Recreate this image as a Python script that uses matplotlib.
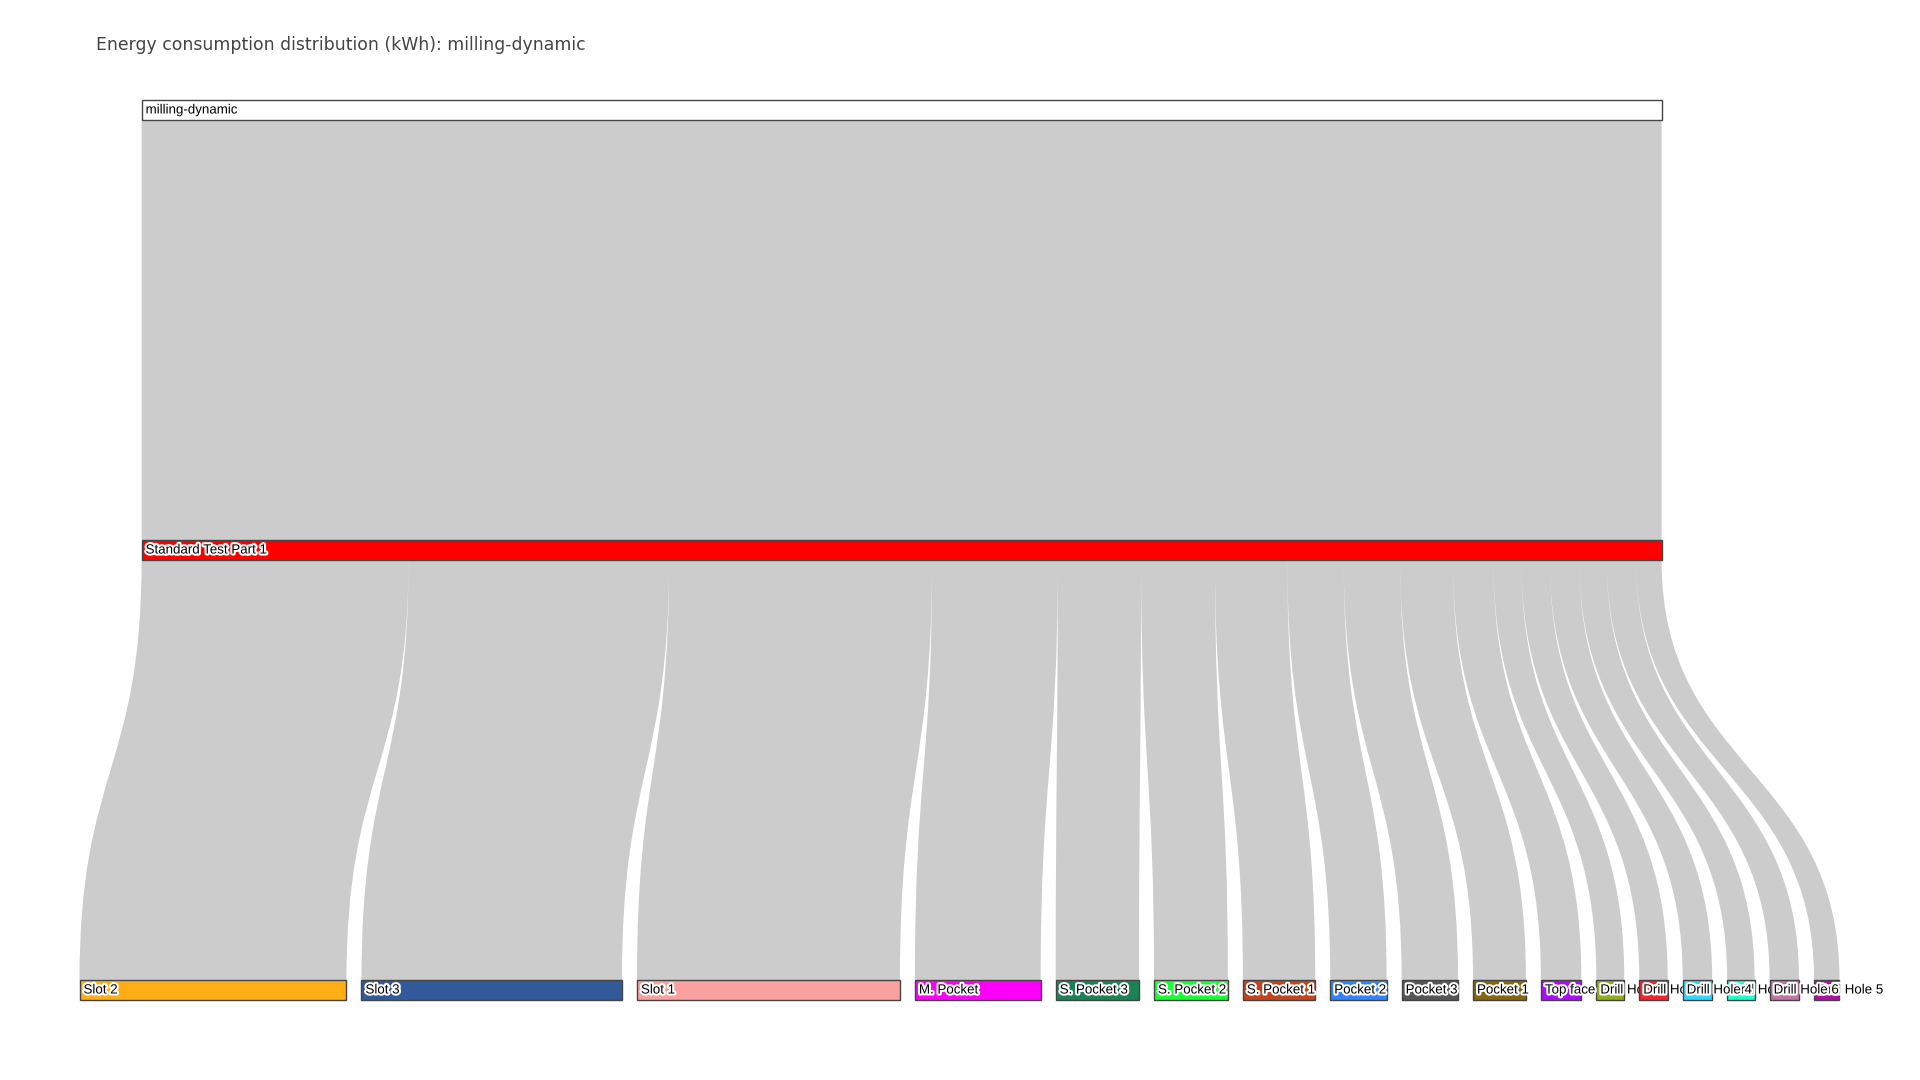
import matplotlib.pyplot as plt
import matplotlib.patheffects as pe
from matplotlib.path import Path
from matplotlib.patches import PathPatch, Rectangle

# Data (kWh), left to right along the bottom row
source_label = 'milling-dynamic'
part_label = 'Standard Test Part 1'
features = ['Slot 2', 'Slot 3', 'Slot 1', 'M. Pocket', 'S. Pocket 3', 'S. Pocket 2',
            'S. Pocket 1', 'Pocket 2', 'Pocket 3', 'Pocket 1', 'Top face',
            'Drill Hole 1', 'Drill Hole 2', 'Drill Hole 4', 'Drill Hole 3',
            'Drill Hole 6', 'Drill Hole 5']
energy = [0.535, 0.522, 0.527, 0.252, 0.167, 0.148, 0.145, 0.113, 0.113, 0.106,
          0.081, 0.056, 0.057, 0.059, 0.055, 0.059, 0.051]
feature_colors = ['#FEAF16', '#325A9B', '#F8A19F', '#FE00FA', '#1C8356', '#16FF32',
                  '#C4451C', '#3283FE', '#565656', '#85660D', '#AA0DFE', '#90AD1C',
                  '#F6222E', '#2ED9FF', '#1CFFCE', '#C075A6', '#B10DA1']
title = 'Energy consumption distribution (kWh): milling-dynamic'

# Layout (pixels)
W, H = 1920, 1080
row_y = [100, 540, 980]
thick = 20
total = sum(energy)
scale = 1520 / total
gap = 15
bottom_x0 = 79.5

fig = plt.figure(figsize=(W / 100, H / 100), dpi=100)
ax = fig.add_axes([0, 0, 1, 1])
ax.set_xlim(0, W)
ax.set_ylim(H, 0)
ax.axis('off')

# bottom row positions
widths = [v * scale for v in energy]
xs = []
x = bottom_x0
for w in widths:
    xs.append(x)
    x += w + gap
centers = [x0 + w / 2 for x0, w in zip(xs, widths)]
mid_center = sum(c * v for c, v in zip(centers, energy)) / total
top_w = total * scale
top_x0 = mid_center - top_w / 2

halo = [pe.withStroke(linewidth=3, foreground='white')]
lab_size = 9.6


def band(s0, s1, ys, t0, t1, yt):
    ym = (ys + yt) / 2
    verts = [(s0, ys), (s0, ym), (t0, ym), (t0, yt), (t1, yt), (t1, ym), (s1, ym), (s1, ys), (s0, ys)]
    codes = [Path.MOVETO, Path.CURVE4, Path.CURVE4, Path.CURVE4, Path.LINETO,
             Path.CURVE4, Path.CURVE4, Path.CURVE4, Path.CLOSEPOLY]
    ax.add_patch(PathPatch(Path(verts, codes), facecolor=(0, 0, 0, 0.2), edgecolor='none', zorder=1))


# links
band(top_x0, top_x0 + top_w, row_y[0] + thick, top_x0, top_x0 + top_w, row_y[1])
s = top_x0
for x0, w in zip(xs, widths):
    band(s, s + w, row_y[1] + thick, x0, x0 + w, row_y[2])
    s += w

# nodes
def node(x0, w, y0, color, label, z):
    ax.add_patch(Rectangle((x0, y0), w, thick, facecolor=color, edgecolor='#444444', linewidth=1, zorder=z))
    ax.text(x0 + 4, y0 + thick / 2 + 0.5, label, fontsize=lab_size, family='Liberation Sans',
            ha='left', va='center', color='black', path_effects=halo, zorder=z + 0.5)


node(top_x0, top_w, row_y[0], 'white', source_label, 5)
node(top_x0, top_w, row_y[1], '#FF0000', part_label, 5)
rank = {name: i for i, name in enumerate(sorted(features))}
for x0, w, c, name in zip(xs, widths, feature_colors, features):
    node(x0, w, row_y[2], c, name, 10 + rank[name])

ax.text(96, 45, title, fontsize=12.45, family='DejaVu Sans', color='#444444', ha='left', va='center')

fig.savefig('out.png', dpi=100, facecolor='white')
